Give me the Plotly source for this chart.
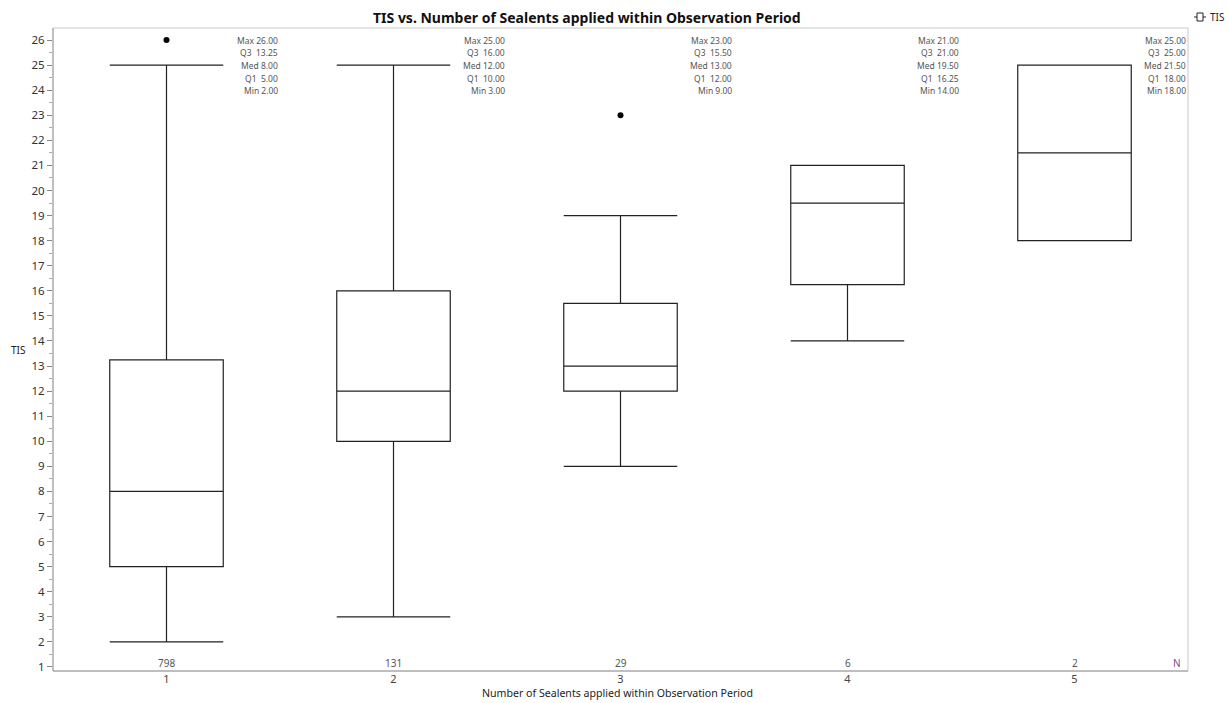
import plotly.graph_objects as go

# ---- data ----
categories = [1, 2, 3, 4, 5]
n_counts = [798, 131, 29, 6, 2]
stat_max = [26.00, 25.00, 23.00, 21.00, 25.00]
stat_q3 = [13.25, 16.00, 15.50, 21.00, 25.00]
stat_med = [8.00, 12.00, 13.00, 19.50, 21.50]
stat_q1 = [5.00, 10.00, 12.00, 16.25, 18.00]
stat_min = [2.00, 3.00, 9.00, 14.00, 18.00]
upper_whisker = [25, 25, 19, 21, 25]
lower_whisker = [2, 3, 9, 14, 18]
outlier_x = [1, 3]
outlier_y = [26, 23]
y_ticks = list(range(1, 27))

W, H = 1229, 703
L, R, T, B = 53, 1188, 28, 671
PW, PH = R - L, B - T

def px_x(px):
    return (px - L) / PW

def px_y(py):
    return (B - py) / PH

FONT = "Noto Sans"

fig = go.Figure()
fig.add_trace(go.Box(
    x=categories, q1=stat_q1, median=stat_med, q3=stat_q3,
    lowerfence=lower_whisker, upperfence=upper_whisker,
    width=0.5, whiskerwidth=1,
    line=dict(color="#222222", width=1.2),
    fillcolor="rgba(0,0,0,0)", boxpoints=False, hoverinfo="skip",
    showlegend=False,
))
fig.add_trace(go.Scatter(
    x=outlier_x, y=outlier_y, mode="markers",
    marker=dict(color="black", size=6), showlegend=False, hoverinfo="skip",
))

annotations = []
labels = ["Max", "Q3", "Med", "Q1", "Min"]
for i, c in enumerate(categories):
    vals = [stat_max[i], stat_q3[i], stat_med[i], stat_q1[i], stat_min[i]]
    for j, (lab, v) in enumerate(zip(labels, vals)):
        sep = "\u00a0\u00a0" if lab in ("Q3", "Q1") else "\u00a0"
        annotations.append(dict(
            x=c + 0.5, y=px_y(40 + j * 12.7), xref="x", yref="paper",
            text=f"{lab}{sep}{v:.2f}", showarrow=False, xanchor="right", yanchor="middle",
            font=dict(family=FONT, size=8.5, color="#555555"),
        ))
    annotations.append(dict(
        x=c, y=px_y(663), xref="x", yref="paper", text=str(n_counts[i]),
        showarrow=False, xanchor="center", yanchor="middle",
        font=dict(family=FONT, size=10, color="#555555"),
    ))
annotations.append(dict(
    x=px_x(1177), y=px_y(663), xref="paper", yref="paper", text="N",
    showarrow=False, xanchor="center", yanchor="middle",
    font=dict(family=FONT, size=10, color="#7a4a8a"),
))
annotations.append(dict(
    x=px_x(587), y=px_y(18), xref="paper", yref="paper",
    text="<b>TIS vs. Number of Sealents applied within Observation Period</b>",
    showarrow=False, xanchor="center", yanchor="middle",
    font=dict(family=FONT, size=14, color="#111111"),
))
annotations.append(dict(
    x=px_x(18), y=px_y(350), xref="paper", yref="paper", text="TIS",
    showarrow=False, xanchor="center", yanchor="middle",
    font=dict(family=FONT, size=10, color="#222222"),
))
annotations.append(dict(
    x=px_x(617), y=px_y(693), xref="paper", yref="paper",
    text="Number of Sealents applied within Observation Period",
    showarrow=False, xanchor="center", yanchor="middle",
    font=dict(family=FONT, size=10.6, color="#222222"),
))
annotations.append(dict(
    x=px_x(1227), y=px_y(17), xref="paper", yref="paper", text="TIS",
    showarrow=False, xanchor="right", yanchor="middle",
    font=dict(family=FONT, size=10, color="#222222"),
))

shapes = [
    dict(type="rect", xref="paper", yref="paper", x0=0, x1=1, y0=0, y1=1,
         line=dict(color="#c8c8c8", width=1), layer="below"),
    dict(type="line", xref="paper", yref="paper", x0=0, x1=0, y0=0, y1=1,
         line=dict(color="#9a9a9a", width=1)),
    dict(type="line", xref="paper", yref="paper", x0=0, x1=1, y0=0, y1=0,
         line=dict(color="#9a9a9a", width=1)),
    # legend icon
    dict(type="rect", xref="paper", yref="paper", x0=px_x(1197), x1=px_x(1203),
         y0=px_y(21), y1=px_y(13), line=dict(color="#222222", width=1)),
    dict(type="line", xref="paper", yref="paper", x0=px_x(1194), x1=px_x(1197),
         y0=px_y(17), y1=px_y(17), line=dict(color="#222222", width=1)),
    dict(type="line", xref="paper", yref="paper", x0=px_x(1203), x1=px_x(1206),
         y0=px_y(17), y1=px_y(17), line=dict(color="#222222", width=1)),
]

fig.update_layout(
    width=W, height=H,
    margin=dict(l=L, r=W - R, t=T, b=H - B, pad=0),
    plot_bgcolor="white", paper_bgcolor="white",
    annotations=annotations, shapes=shapes, showlegend=False,
    font=dict(family=FONT, color="#333333"),
)
fig.update_xaxes(
    range=[0.5, 5.5], tickmode="array", tickvals=categories,
    ticktext=[str(c) for c in categories], showgrid=False, zeroline=False,
    showline=False, ticks="", tickfont=dict(family=FONT, size=11, color="#444444"),
)
fig.update_yaxes(
    range=[0.84, 26.48], tickmode="array", tickvals=y_ticks,
    showgrid=False, zeroline=False, showline=False,
    ticks="outside", ticklen=5, tickcolor="#888888",
    minor=dict(ticks="outside", ticklen=3, dtick=0.5, tick0=0.5, tickcolor="#aaaaaa", showgrid=False),
    tickfont=dict(family=FONT, size=11.5, color="#333333"),
)

# remove the default page margin so the figure sits at the window's top-left corner
fig.write_html(
    "out.html",
    config={"displayModeBar": False},
    post_script="document.body.style.margin='0';document.body.style.overflow='hidden';",
)
